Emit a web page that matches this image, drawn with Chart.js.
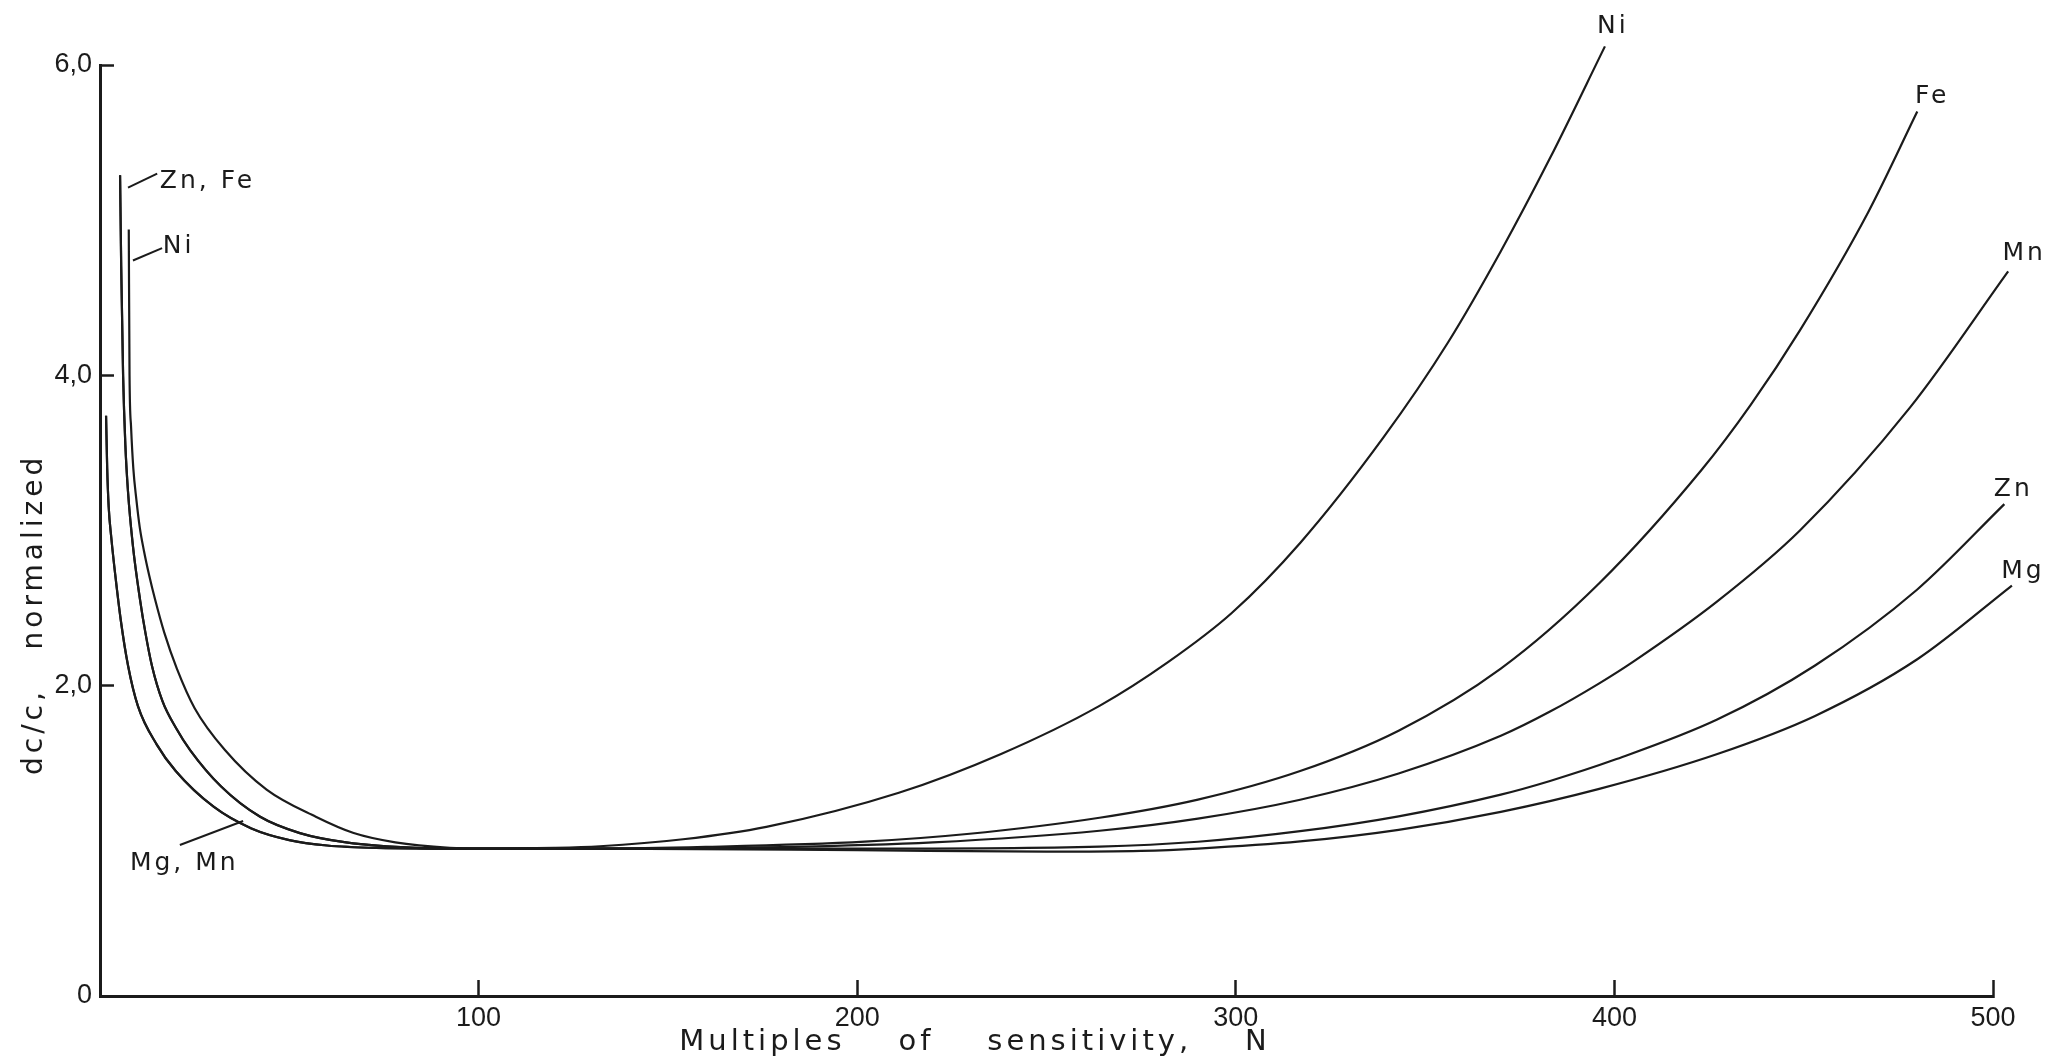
<!DOCTYPE html>
<html>
<head>
<meta charset="utf-8">
<title>dc/c normalized vs multiples of sensitivity</title>
<script src="https://cdn.jsdelivr.net/npm/chart.js@4.4.1/dist/chart.umd.min.js"></script>
<style>
  html, body { margin: 0; padding: 0; background: #ffffff; }
  canvas { display: block; }
</style>
</head>
<body>
<canvas id="chart" width="2055" height="1064" style="width:2055px;height:1064px"></canvas>
<script>
// ---- data -------------------------------------------------------------
// Low-N branches (elements that coincide share one branch)
const DECAY_N_MG_MN = [1.6, 1.9, 2.3, 3.0, 4.0, 5.5, 7.4, 10, 15, 20, 30, 40, 50, 60, 73];
const DECAY_V_MG_MN = [3.74, 3.4, 3.15, 2.95, 2.72, 2.42, 2.13, 1.87, 1.62, 1.45, 1.22, 1.08, 1.005, 0.97, 0.955];

const DECAY_N_ZN_FE = [5.3, 5.6, 6.1, 6.7, 7.4, 8.7, 10.6, 12, 13.7, 16.5, 20, 23.8, 32, 42.3, 52.8, 65, 83.6];
const DECAY_V_ZN_FE = [5.29, 4.7, 4.0, 3.55, 3.25, 2.9, 2.55, 2.34, 2.13, 1.90, 1.73, 1.585, 1.35, 1.155, 1.05, 0.99, 0.955];

const DECAY_N_NI = [7.6, 7.8, 8.2, 8.8, 9.6, 10.5, 11.6, 13, 14.5, 17, 20.3, 25, 33, 44, 57, 67, 78, 92.4];
const DECAY_V_NI = [4.94, 4.0, 3.67, 3.40, 3.2, 3.02, 2.87, 2.71, 2.56, 2.34, 2.11, 1.855, 1.585, 1.33, 1.155, 1.05, 0.99, 0.955];

// High-N branches, one per element
const RISE_N_NI = [100, 120, 132, 154, 176, 211, 238, 264, 282, 299, 317, 339, 356, 370, 383, 397.5];
const RISE_V_NI = [0.95, 0.955, 0.965, 1.01, 1.09, 1.31, 1.56, 1.87, 2.15, 2.47, 2.92, 3.60, 4.21, 4.80, 5.40, 6.12];

const RISE_N_FE = [100, 132, 160, 202, 229, 264, 290, 317, 343, 370, 396, 423, 436, 449, 467, 480];
const RISE_V_FE = [0.95, 0.95, 0.961, 0.995, 1.044, 1.149, 1.266, 1.45, 1.71, 2.11, 2.66, 3.39, 3.81, 4.29, 5.05, 5.70];

const RISE_N_MN = [100, 132, 180, 220, 264, 290, 317, 343, 370, 383, 396, 405, 427, 449, 478, 504];
const RISE_V_MN = [0.95, 0.95, 0.96, 0.99, 1.065, 1.143, 1.265, 1.434, 1.677, 1.833, 2.015, 2.155, 2.54, 3.00, 3.79, 4.67];

const RISE_N_ZN = [100, 132, 200, 264, 290, 317, 343, 370, 383, 400, 427, 453, 480, 503];
const RISE_V_ZN = [0.95, 0.95, 0.95, 0.963, 0.994, 1.062, 1.158, 1.298, 1.386, 1.522, 1.78, 2.13, 2.62, 3.17];

const RISE_N_MG = [100, 132, 200, 250, 275, 290, 317, 343, 370, 396, 427, 453, 480, 505];
const RISE_V_MG = [0.95, 0.95, 0.94, 0.93, 0.935, 0.95, 0.996, 1.071, 1.187, 1.335, 1.558, 1.805, 2.17, 2.645];

const ELEMENTS = ['Ni', 'Fe', 'Mn', 'Zn', 'Mg'];

const X_TICKS = [0, 100, 200, 300, 400, 500];
const X_TICK_LABELS = ['', '100', '200', '300', '400', '500'];
const Y_TICKS = [0, 2, 4, 6];
const Y_TICK_LABELS = ['0', '2,0', '4,0', '6,0'];

const X_TITLE = 'Multiples    of    sensitivity,    N';
const Y_TITLE = 'dc/c,   normalized';

// ---- styling ----------------------------------------------------------
const INK = '#1b1b1b';
const TICK_FONT = { family: "'Liberation Sans', 'DejaVu Sans', sans-serif", size: 27 };
const LABEL_FONT = "25px 'DejaVu Sans', sans-serif";
const TITLE_FONT = "29px 'DejaVu Sans', sans-serif";

function toPoints(ns, vs) {
  return ns.map((n, i) => ({ x: n, y: vs[i] }));
}

const branches = {
  Ni: [DECAY_N_NI, DECAY_V_NI, RISE_N_NI, RISE_V_NI],
  Fe: [DECAY_N_ZN_FE, DECAY_V_ZN_FE, RISE_N_FE, RISE_V_FE],
  Mn: [DECAY_N_MG_MN, DECAY_V_MG_MN, RISE_N_MN, RISE_V_MN],
  Zn: [DECAY_N_ZN_FE, DECAY_V_ZN_FE, RISE_N_ZN, RISE_V_ZN],
  Mg: [DECAY_N_MG_MN, DECAY_V_MG_MN, RISE_N_MG, RISE_V_MG]
};

const datasets = ELEMENTS.map(el => {
  const [dn, dv, rn, rv] = branches[el];
  return {
    label: el,
    data: toPoints(dn, dv).concat(toPoints(rn, rv)),
    borderColor: INK,
    borderWidth: 2.2,
    pointRadius: 0,
    fill: false,
    cubicInterpolationMode: 'monotone',
    clip: false
  };
});

// End-of-curve labels: offset (px) from each curve's last point
const END_LABEL_OFFSET = {
  Ni: [8, -13], Fe: [15, -9], Mn: [16, -11], Zn: [9, -8], Mg: [11, -8]
};

// Callouts on the low-N branches, given in data units (N, dc/c)
const CALLOUTS = [
  { text: 'Zn, Fe', at: [15.8, 5.21], from: [7.4, 5.21], to: [15.1, 5.30] },
  { text: 'Ni',     at: [16.6, 4.79], from: [8.7, 4.74], to: [16.4, 4.82] },
  { text: 'Mg, Mn', at: [7.9, 0.81],  from: [21.1, 0.973], to: [37.8, 1.128] }
];

const annotate = {
  id: 'annotate',
  afterDraw(chart) {
    const { ctx, scales } = chart;
    const x = scales.x, y = scales.y;
    ctx.save();
    ctx.fillStyle = INK;
    ctx.strokeStyle = INK;

    // callouts with leader lines
    ctx.font = LABEL_FONT;
    ctx.letterSpacing = '3px';
    ctx.textAlign = 'left';
    ctx.textBaseline = 'alphabetic';
    ctx.lineWidth = 2;
    CALLOUTS.forEach(c => {
      ctx.beginPath();
      ctx.moveTo(x.getPixelForValue(c.from[0]), y.getPixelForValue(c.from[1]));
      ctx.lineTo(x.getPixelForValue(c.to[0]), y.getPixelForValue(c.to[1]));
      ctx.stroke();
      ctx.fillText(c.text, x.getPixelForValue(c.at[0]), y.getPixelForValue(c.at[1]));
    });

    // labels at the high-N ends of the curves
    ctx.textAlign = 'center';
    chart.data.datasets.forEach((ds, i) => {
      const pts = chart.getDatasetMeta(i).data;
      const last = pts[pts.length - 1];
      const off = END_LABEL_OFFSET[ds.label];
      ctx.fillText(ds.label, last.x + off[0], last.y + off[1]);
    });

    // axis titles
    ctx.font = TITLE_FONT;
    ctx.letterSpacing = '4px';
    ctx.textAlign = 'center';
    ctx.textBaseline = 'alphabetic';
    ctx.fillText(X_TITLE, 975, 1050);

    ctx.font = "28px 'DejaVu Sans', sans-serif";
    ctx.translate(42, 775);
    ctx.rotate(-Math.PI / 2);
    ctx.textAlign = 'left';
    ctx.fillText(Y_TITLE, 0, 0);
    ctx.restore();
  }
};

new Chart(document.getElementById('chart'), {
  type: 'line',
  data: { datasets },
  options: {
    responsive: false,
    animation: false,
    devicePixelRatio: 1,
    layout: { padding: { left: 0, right: 62, top: 65, bottom: 0 } },
    plugins: { legend: { display: false }, tooltip: { enabled: false } },
    scales: {
      x: {
        type: 'linear',
        min: 0,
        max: 500,
        afterBuildTicks: s => { s.ticks = X_TICKS.map(v => ({ value: v })); },
        afterFit: s => { s.height = 68; },
        ticks: {
          autoSkip: false,
          maxRotation: 0,
          padding: 22,
          color: INK,
          font: TICK_FONT,
          callback: v => X_TICK_LABELS[X_TICKS.indexOf(v)] ?? ''
        },
        grid: {
          drawOnChartArea: false,
          drawTicks: true,
          tickLength: -16,
          tickWidth: 2.5,
          tickColor: INK
        },
        border: { display: true, width: 3, color: INK }
      },
      y: {
        type: 'linear',
        min: 0,
        max: 6,
        afterBuildTicks: s => { s.ticks = Y_TICKS.map(v => ({ value: v })); },
        afterFit: s => { s.width = 100; },
        ticks: {
          autoSkip: false,
          padding: 22,
          color: INK,
          font: TICK_FONT,
          callback: v => Y_TICK_LABELS[Y_TICKS.indexOf(v)] ?? ''
        },
        grid: {
          drawOnChartArea: false,
          drawTicks: true,
          tickLength: -14,
          tickWidth: 2.5,
          tickColor: INK
        },
        border: { display: true, width: 3, color: INK }
      }
    }
  },
  plugins: [annotate]
});
</script>
</body>
</html>
